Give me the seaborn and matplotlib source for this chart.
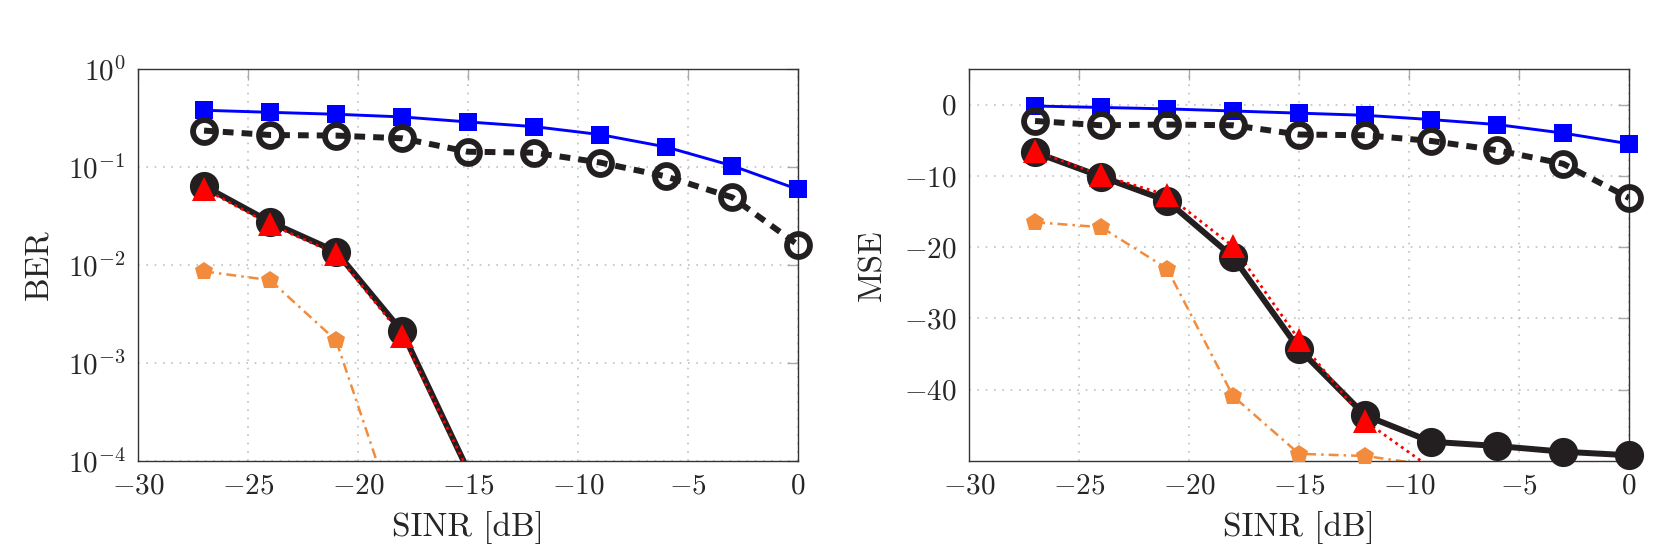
import numpy as np
import pandas as pd
import matplotlib
matplotlib.use('Agg')
import matplotlib.pyplot as plt
import seaborn as sns

sinr = [-27, -24, -21, -18, -15, -12, -9, -6, -3, 0]

# BER panel (log scale)
ber_blue = [0.379, 0.361, 0.345, 0.324, 0.288, 0.258, 0.214, 0.160, 0.103, 0.059]
ber_dashed = [0.235, 0.212, 0.209, 0.196, 0.143, 0.140, 0.111, 0.080, 0.049, 0.016]
ber_solid = [0.064, 0.0275, 0.0137, 0.0021, 8e-5]
ber_red = [0.060, 0.026, 0.013, 0.0019, 8e-5]
ber_orange = [0.0086, 0.0070, 0.0017, 1.7e-5]

# MSE panel
mse_blue = [-0.2, -0.4, -0.6, -0.9, -1.2, -1.5, -2.1, -2.8, -4.0, -5.5]
mse_dashed = [-2.3, -2.9, -2.8, -2.9, -4.2, -4.3, -5.1, -6.4, -8.3, -13.1]
mse_solid = [-6.7, -10.1, -13.5, -21.4, -34.3, -43.6, -47.3, -47.9, -48.7, -49.2]
mse_red = [-6.5, -9.9, -12.7, -19.9, -33.0, -44.4, -51.0]
mse_orange = [-16.5, -17.2, -23.0, -40.9, -49.0, -49.3, -50.6]

BLACK = '#231f20'
ORANGE = '#f28c3c'

sns.set_style('white')
plt.rcParams['font.family'] = ['serif']
plt.rcParams['font.serif'] = ['cmr10', 'DejaVu Serif']
plt.rcParams['mathtext.fontset'] = 'cm'
plt.rcParams['axes.formatter.use_mathtext'] = True
plt.rcParams['axes.unicode_minus'] = True

styles = [
    # name, color, linestyle, lw, marker, ms, face, mew
    ('blue', '#0000ff', '-', 2.1, 's', 13, '#0000ff', 0),
    ('dashed', BLACK, (0, (1.8, 1.35)), 4.3, 'o', 16.5, 'none', 4.2),
    ('orange', ORANGE, (0, (4, 2, 1, 2)), 1.8, 'p', 13.5, ORANGE, 0),
    ('solid', BLACK, '-', 4.3, 'o', 21, BLACK, 0),
    ('red', '#ff0000', (0, (1, 1.5)), 2.0, '^', 17, '#ff0000', 0),
]


def draw_panel(ax, series, ymin):
    for name, color, ls, lw, mk, ms, face, mew in styles:
        y = series[name]
        x = sinr[:len(y)]
        sns.lineplot(x=x, y=y, ax=ax, color=color, linestyle=ls, linewidth=lw)
        # markers are not clipped, but only drawn inside the y range
        df = pd.DataFrame({'x': x, 'y': y})
        df = df[df['y'] >= ymin]
        sns.lineplot(data=df, x='x', y='y', ax=ax, linestyle='', marker=mk,
                     markersize=ms, markerfacecolor=face, markeredgecolor=color,
                     markeredgewidth=mew, clip_on=False, zorder=3)


fig = plt.figure(figsize=(16.61, 5.57), dpi=100)
ax1 = fig.add_axes([0.0831, 0.1724, 0.3974, 0.7038])
ax2 = fig.add_axes([0.5834, 0.1724, 0.3974, 0.7038])

ax1.set_yscale('log')
draw_panel(ax1, {'blue': ber_blue, 'dashed': ber_dashed, 'solid': ber_solid,
                 'red': ber_red, 'orange': ber_orange}, 1e-4)
ax1.set_ylim(1e-4, 1)
ax1.set_yticks([1e-4, 1e-3, 1e-2, 1e-1, 1])
ax1.minorticks_off()
ax1.set_ylabel('BER', fontsize=24, labelpad=10)

draw_panel(ax2, {'blue': mse_blue, 'dashed': mse_dashed, 'solid': mse_solid,
                 'red': mse_red, 'orange': mse_orange}, -50)
ax2.set_ylim(-50, 5)
ax2.set_yticks([0, -10, -20, -30, -40])
ax2.set_ylabel('MSE', fontsize=24, labelpad=12)

for ax in (ax1, ax2):
    ax.set_xlim(-30, 0)
    ax.set_xticks([-30, -25, -20, -15, -10, -5, 0])
    ax.set_xlabel('SINR [dB]', fontsize=24, labelpad=8)
    ax.grid(True, linestyle=(0, (1, 4)), color='#c0c0c0', linewidth=1.2)
    ax.tick_params(direction='in', top=True, right=True, length=8, width=1,
                   color='#aaaaaa', labelsize=21, pad=9)
    for sp in ax.spines.values():
        sp.set_color('#333333')
        sp.set_linewidth(1.0)

fig.savefig('out.png', dpi=100)
